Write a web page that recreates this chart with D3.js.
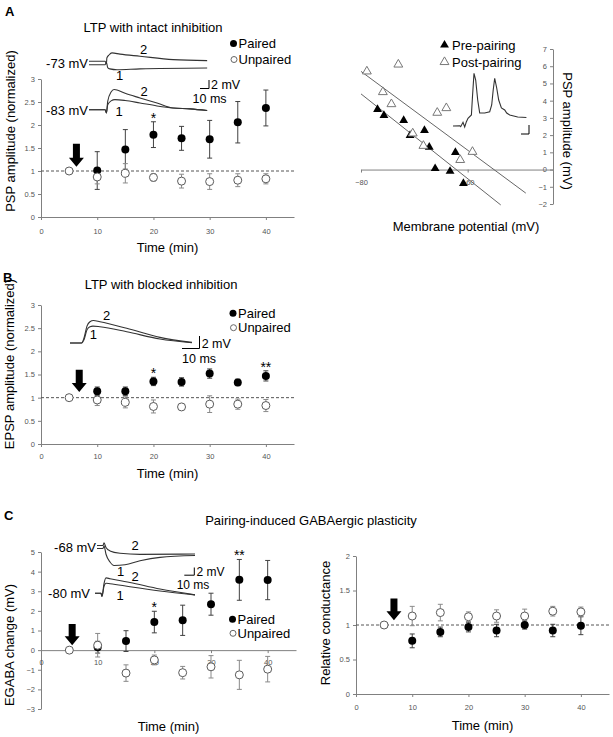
<!DOCTYPE html>
<html><head><meta charset="utf-8">
<script src="https://cdn.jsdelivr.net/npm/d3@7"></script>
<style>body{margin:0;background:#fff}svg{display:block;font-family:"Liberation Sans",Arial,sans-serif}</style>
</head><body><svg id="c" width="613" height="737"></svg>
<script>
// ---------------- DATA ----------------
const timeTicks = [0, 10, 20, 30, 40];
const pairedTimes = [10, 15, 20, 25, 30, 35, 40];
const unpairedTimes = [5, 10, 15, 20, 25, 30, 35, 40];
const legendLabels = ["Paired", "Unpaired"];

// Panel A (left): LTP with intact inhibition
const aPairedMean = [1.01, 1.47, 1.79, 1.71, 1.69, 2.06, 2.37];
const aPairedErr  = [0.41, 0.43, 0.28, 0.26, 0.41, 0.45, 0.39];
const aUnpairedMean = [1.0, 0.87, 0.95, 0.86, 0.78, 0.77, 0.80, 0.83];
const aUnpairedErr  = [0, 0.15, 0.21, 0.08, 0.15, 0.17, 0.14, 0.11];
const aStars = [{t: 20, s: "*"}];
const aTicksY = [0, 0.5, 1, 1.5, 2, 2.5, 3];

// Panel B: LTP with blocked inhibition
const bPairedMean = [1.14, 1.14, 1.35, 1.34, 1.52, 1.33, 1.47];
const bPairedErr  = [0.09, 0.09, 0.09, 0.09, 0.10, 0.07, 0.11];
const bUnpairedMean = [1.0, 0.95, 0.90, 0.81, 0.80, 0.86, 0.86, 0.83];
const bUnpairedErr  = [0, 0.12, 0.12, 0.14, 0.07, 0.18, 0.11, 0.13];
const bStars = [{t: 20, s: "*"}, {t: 40, s: "**"}];

// Panel C (left): EGABA change
const cPairedMean = [0.15, 0.46, 1.43, 1.52, 2.34, 3.58, 3.57];
const cPairedErr  = [0.30, 0.53, 0.55, 0.77, 0.56, 1.04, 1.00];
const cUnpairedMean = [0, 0.25, -1.17, -0.5, -1.15, -0.85, -1.26, -0.97];
const cUnpairedErr  = [0, 0.6, 0.42, 0.25, 0.32, 0.57, 0.74, 0.65];
const cStars = [{t: 20, s: "*"}, {t: 35, s: "**"}];
const cTicksY = [-3, -2, -1, 0, 1, 2, 3, 4, 5];

// Panel C (right): relative conductance
const dPairedMean = [0.77, 0.90, 0.97, 0.92, 1.00, 0.92, 0.99];
const dPairedErr  = [0.10, 0.07, 0.07, 0.09, 0.06, 0.09, 0.13];
const dUnpairedMean = [1.0, 1.13, 1.18, 1.12, 1.13, 1.13, 1.20, 1.19];
const dUnpairedErr  = [0, 0.14, 0.12, 0.07, 0.09, 0.10, 0.07, 0.07];
const dTicksY = [0, 0.5, 1, 1.5, 2];

// pairing arrows (time, top value, tip value)
const arrowA = {t: 6.3, top: 1.59, tip: 1.09};
const arrowB = {t: 6.8, top: 1.60, tip: 1.12};
const arrowC = {t: 5.5, top: 1.33, tip: 0.25};
const arrowD = {t: 6.75, top: 1.385, tip: 1.07};

// Panel A (right): PSP amplitude vs membrane potential
const prePairingV   = [-76.9, -75.7, -72.0, -70.8, -68.1, -67.2, -66.1, -63.3, -62.3, -60.8];
const prePairingAmp = [3.49, 3.14, 2.85, 1.98, 2.27, 1.30, 0.06, -0.10, 1.00, -0.80];
const postPairingV   = [-78.9, -73.0, -75.9, -74.3, -70.3, -68.3, -65.7, -64.0, -61.4, -59.1];
const postPairingAmp = [5.70, 6.10, 4.50, 3.80, 2.10, 1.38, 3.30, 3.57, 0.56, 1.03];
const preFitRange  = [-80, -53.8];
const postFitRange = [-80, -49.1];
const scatterTicksX = [-80, -60];
const scatterTicksY = [-2, -1, 0, 1, 2, 3, 4, 5, 6, 7];
const scatterLegend = ["Pre-pairing", "Post-pairing"];

// example traces (time in ms, voltage in mV relative to baseline)
const trA73_2 = {t: [0, 19, 20.5, 21, 23.5, 27, 36.5, 60, 99, 139], v: [0, 0, -0.6, 0.8, 1.5, 2.0, 1.7, 1.2, 0.4, 0.15]};
const trA73_1 = {t: [0, 19, 20.5, 22, 24.5, 33, 60, 139], v: [0, 0, 0.6, -0.7, -1.0, -1.2, -1.0, -0.8]};
const trA83_2 = {t: [0, 19, 20.5, 22, 26, 29.5, 33, 42.5, 60, 80, 99, 119, 139], v: [0, 0, -0.8, 2, 4.2, 4.8, 4.7, 3.9, 2.8, 1.6, 0.4, 0.2, -0.2]};
const trA83_1 = {t: [0, 19, 20.5, 22, 26, 30.5, 42.5, 60, 80, 99, 119, 139], v: [0, 0, -0.8, 1.2, 2.1, 2.4, 2.2, 1.6, 0.9, 0.4, 0.2, -0.2]};
const trB_2 = {t: [0, 6.6, 8, 9.7, 11.4, 13.4, 17.1, 32.4, 51.4, 69.7], v: [0, 0, 0.8, 2.7, 3.4, 3.6, 3.4, 2.35, 0.9, 0.1]};
const trB_1 = {t: [0, 6.6, 8, 9.7, 11.4, 13.1, 17.1, 32.4, 51.4, 69.7], v: [0, 0, 0.5, 2.1, 2.6, 2.7, 2.6, 1.8, 0.64, 0.03]};
const trC68_2 = {t: [0, 6, 7, 9, 13, 23, 43, 98], v: [0, 0, 0.7, -0.5, -1.4, -2.0, -2.3, -2.2]};
const trC68_1 = {t: [0, 6, 7, 9, 13, 17, 28, 43, 63, 98], v: [0, 0, 0.7, -1.5, -3.5, -4.4, -4.2, -3.2, -2.3, -1.8]};
const trC80_2 = {t: [0, 6, 7, 9, 11, 15, 35, 65, 100], v: [0, 0, -0.8, 2.5, 4.0, 3.8, 2.8, 1.1, -0.4]};
const trC80_1 = {t: [0, 6, 7, 9, 11, 15, 35, 65, 100], v: [0, 0, -0.8, 1.8, 2.6, 2.5, 1.7, 0.6, -0.4]};
const spikeTrace = {t: [0, 6.7, 7.7, 10, 11.7, 13.4, 15, 18.4, 19.4, 21, 22.7, 24.7, 26.7, 31.7, 36.7, 38.7, 40.2, 41.7, 43.7, 45.7, 48.4, 51.7, 53.7, 56.7, 64.7, 73.4],
                    v: [0, 0.3, -0.7, 3.7, -1, 4.3, 7.7, 11, 28, 52.7, 46, 26, 13, 13, 14.3, 21, 36, 47.7, 38, 26, 18, 16, 13, 11, 9, 8.5]};

// ---------------- DRAWING ----------------
const svg = d3.select("#c");
const AX = "#808080", TICKTXT = "#555";

function styleAxis(sel) {
  sel.select(".domain").attr("stroke", AX);
  sel.selectAll(".tick line").attr("stroke", AX);
  sel.selectAll(".tick text").attr("fill", TICKTXT).attr("font-size", 7.5).attr("font-family", "Liberation Sans, Arial, sans-serif");
}
function txt(g, x, y, s, o = {}) {
  return g.append("text").attr("x", x).attr("y", y).text(s)
    .attr("font-size", o.size || 13).attr("text-anchor", o.anchor || "start")
    .attr("font-weight", o.weight || "normal").attr("fill", o.fill || "#000");
}
function vlabel(x, y, s, rot = -90) {
  svg.append("text").attr("transform", `translate(${x},${y}) rotate(${rot})`)
    .attr("text-anchor", "middle").attr("font-size", 13).text(s);
}
function drawArrow(g, cx, yTop, yTip) {
  const sw = 3.5, hw = 7.5, hl = 9;
  g.append("path").attr("d", `M${cx - sw},${yTop}L${cx + sw},${yTop}L${cx + sw},${yTip - hl}L${cx + hw},${yTip - hl}L${cx},${yTip}L${cx - hw},${yTip - hl}L${cx - sw},${yTip - hl}Z`).attr("fill", "#000");
}

function timePanel(o) {
  const x = d3.scaleLinear().domain([0, 45]).range(o.xr);
  const y = d3.scaleLinear().domain(o.yd).range(o.yr);
  const g = svg.append("g");
  g.append("g").attr("transform", `translate(${o.xr[0]},0)`)
    .call(d3.axisLeft(y).tickValues(o.yt).tickSize(3).tickSizeOuter(0).tickPadding(3).tickFormat(d3.format("~g"))).call(styleAxis);
  g.append("g").attr("transform", `translate(0,${y(o.xAt)})`)
    .call(d3.axisBottom(x).tickValues(timeTicks).tickSize(3).tickSizeOuter(0).tickPadding(o.pad)).call(styleAxis);
  if (o.ref != null) {
    g.append("line").attr("x1", x(0)).attr("x2", x(45)).attr("y1", y(o.ref)).attr("y2", y(o.ref))
      .attr("stroke", "#555").attr("stroke-dasharray", "3,2").attr("stroke-width", 1);
  }
  const P = pairedTimes.map((t, i) => ({t, m: o.pm[i], e: o.pe[i]}));
  const U = unpairedTimes.map((t, i) => ({t, m: o.um[i], e: o.ue[i]}));
  function bars(data, col) {
    data.filter(d => d.e > 0).forEach(d => {
      const cx = x(d.t), y1 = y(d.m + d.e), y2 = y(d.m - d.e);
      g.append("line").attr("x1", cx).attr("x2", cx).attr("y1", y1).attr("y2", y2).attr("stroke", col);
      [y1, y2].forEach(yy => g.append("line").attr("x1", cx - 2.5).attr("x2", cx + 2.5).attr("y1", yy).attr("y2", yy).attr("stroke", col));
    });
  }
  bars(P, "#404040");
  bars(U, "#8a8a8a");
  g.selectAll(".p").data(P).join("circle").attr("cx", d => x(d.t)).attr("cy", d => y(d.m)).attr("r", 4).attr("fill", "#000");
  g.selectAll(".u").data(U).join("circle").attr("cx", d => x(d.t)).attr("cy", d => y(d.m)).attr("r", 4)
    .attr("fill", "#fff").attr("stroke", "#5a5a5a").attr("stroke-width", 1);
  (o.stars || []).forEach(s => {
    const i = pairedTimes.indexOf(s.t);
    txt(g, x(s.t), y(P[i].m + P[i].e) + 1, s.s, {anchor: "middle", size: 14});
  });
  drawArrow(g, x(o.arrow.t), y(o.arrow.top), y(o.arrow.tip));
  txt(g, (o.xr[0] + o.xr[1]) / 2, o.xlabY, "Time (min)", {anchor: "middle"});
  if (o.legend) {
    const L = o.legend;
    g.append("circle").attr("cx", L.x).attr("cy", L.y1).attr("r", 3.5).attr("fill", "#000");
    g.append("circle").attr("cx", L.x + 0.5).attr("cy", L.y2).attr("r", 3).attr("fill", "#fff").attr("stroke", "#666");
    txt(g, L.x + 5, L.y1 + 4.5, legendLabels[0]);
    txt(g, L.x + 5, L.y2 + 4.5, legendLabels[1]);
  }
  return g;
}

function drawTrace(g, tr, x0, pxPerMs, base, pxPerMv, curve) {
  const xs = d3.scaleLinear().domain([0, 1]).range([x0, x0 + pxPerMs]);
  const ys = d3.scaleLinear().domain([0, 1]).range([base, base - pxPerMv]);
  const pts = tr.t.map((t, i) => [xs(t), ys(tr.v[i])]);
  g.append("path").attr("d", d3.line().curve(curve || d3.curveMonotoneX)(pts))
    .attr("fill", "none").attr("stroke", "#333").attr("stroke-width", 1.1);
}
function scaleBar(g, xr, yTop, hLen, vLen) {
  g.append("path").attr("d", `M${xr - hLen},${yTop + vLen}L${xr},${yTop + vLen}L${xr},${yTop}`)
    .attr("fill", "none").attr("stroke", "#000").attr("stroke-width", 1);
}

// ----- Panel letters & titles -----
txt(svg, 5, 16, "A", {weight: "bold", size: 13});
txt(svg, 3, 282, "B", {weight: "bold", size: 13});
txt(svg, 4, 520, "C", {weight: "bold", size: 13});
txt(svg, 153, 31.5, "LTP with intact inhibition", {anchor: "middle"});
txt(svg, 161, 288.5, "LTP with blocked inhibition", {anchor: "middle"});
txt(svg, 311, 525, "Pairing-induced GABAergic plasticity", {anchor: "middle"});

// ----- Panel A left -----
const gA = timePanel({xr: [41, 294], yr: [217, 79], yd: [0, 3], yt: aTicksY, xAt: 0, pad: 9, ref: 1,
  pm: aPairedMean, pe: aPairedErr, um: aUnpairedMean, ue: aUnpairedErr, stars: aStars, arrow: arrowA,
  xlabY: 252, legend: {x: 233.5, y1: 43.5, y2: 59.5}});
vlabel(15, 131, "PSP amplitude (normalized)");
drawTrace(gA, trA73_2, 89, 0.85, 61.3, 4.2);
drawTrace(gA, trA73_1, 89, 0.85, 64.7, 4.2);
drawTrace(gA, trA83_2, 89, 0.85, 109.7, 4.2);
drawTrace(gA, trA83_1, 89, 0.85, 109.7, 4.2);
txt(gA, 88, 67.5, "-73 mV", {anchor: "end"});
txt(gA, 88, 114.5, "-83 mV", {anchor: "end"});
txt(gA, 143.5, 53.5, "2", {anchor: "middle"});
txt(gA, 119.5, 79.5, "1", {anchor: "middle"});
txt(gA, 144, 96, "2", {anchor: "middle"});
txt(gA, 119, 115.5, "1", {anchor: "middle"});
scaleBar(gA, 209, 80, 9, 8.5);
txt(gA, 211, 89, "2 mV", {size: 12.5});
txt(gA, 192.5, 102.5, "10 ms", {size: 12.5});

// ----- Panel A right (scatter) -----
{
  const g = svg.append("g");
  const x = d3.scaleLinear().domain([-80, -44]).range([361, 553]);
  const y = d3.scaleLinear().domain([-2, 7]).range([204, 49]);
  g.append("g").attr("transform", `translate(${x(-44)},0)`)
    .call(d3.axisLeft(y).tickValues(scatterTicksY).tickSize(3).tickSizeOuter(0).tickPadding(3)).call(styleAxis);
  g.append("g").attr("transform", `translate(0,${y(0)})`)
    .call(d3.axisBottom(x).tickValues(scatterTicksX).tickSize(3).tickSizeOuter(0).tickPadding(7)).call(styleAxis);
  function fit(xs, ys) {
    const mx = d3.mean(xs), my = d3.mean(ys);
    const sxy = d3.sum(xs, (v, i) => (v - mx) * (ys[i] - my)), sxx = d3.sum(xs, v => (v - mx) ** 2);
    const b = sxy / sxx; return v => my + b * (v - mx);
  }
  const fPre = fit(prePairingV, prePairingAmp), fPost = fit(postPairingV, postPairingAmp);
  [[fPre, preFitRange], [fPost, postFitRange]].forEach(([f, r]) => {
    g.append("line").attr("x1", x(r[0])).attr("x2", x(r[1])).attr("y1", y(f(r[0]))).attr("y2", y(f(r[1])))
      .attr("stroke", "#666").attr("stroke-width", 1);
  });
  const tri = d3.symbol().type(d3.symbolTriangle).size(34);
  prePairingV.forEach((v, i) => g.append("path").attr("d", tri()).attr("transform", `translate(${x(v)},${y(prePairingAmp[i])})`).attr("fill", "#000"));
  postPairingV.forEach((v, i) => g.append("path").attr("d", tri()).attr("transform", `translate(${x(v)},${y(postPairingAmp[i])})`).attr("fill", "#fff").attr("stroke", "#777"));
  g.append("path").attr("d", tri()).attr("transform", "translate(444.5,45)").attr("fill", "#000");
  g.append("path").attr("d", tri()).attr("transform", "translate(444.5,62)").attr("fill", "#fff").attr("stroke", "#777");
  txt(g, 452, 49.5, scatterLegend[0]);
  txt(g, 452, 66.5, scatterLegend[1]);
  drawTrace(g, spikeTrace, 453, 1, 126, 1, d3.curveLinear);
  scaleBar(g, 529, 125, 8, 9);
  txt(g, 466, 231, "Membrane potential (mV)", {anchor: "middle"});
  vlabel(563, 131, "PSP amplitude (mV)", 90);
}

// ----- Panel B -----
const gB = timePanel({xr: [41, 294], yr: [444, 305], yd: [0, 3], yt: aTicksY, xAt: 0, pad: 7, ref: 1,
  pm: bPairedMean, pe: bPairedErr, um: bUnpairedMean, ue: bUnpairedErr, stars: bStars, arrow: arrowB,
  xlabY: 478, legend: {x: 233, y1: 313.3, y2: 327.7}});
vlabel(14, 364, "EPSP amplitude (normalized)");
drawTrace(gB, trB_2, 70, 1.75, 343, 6.25);
drawTrace(gB, trB_1, 70, 1.75, 343, 6.25);
txt(gB, 106.7, 319.5, "2", {anchor: "middle"});
txt(gB, 93.3, 338.5, "1", {anchor: "middle"});
scaleBar(gB, 199.5, 336, 17.5, 12.5);
txt(gB, 201.7, 347.5, "2 mV", {size: 12.5});
txt(gB, 182, 362.5, "10 ms", {size: 12.5});

// ----- Panel C left -----
const gC = timePanel({xr: [41, 296], yr: [709, 552], yd: [-3, 5], yt: cTicksY, xAt: 0, pad: 7, ref: null,
  pm: cPairedMean, pe: cPairedErr, um: cUnpairedMean, ue: cUnpairedErr, stars: cStars, arrow: arrowC,
  xlabY: 731, legend: {x: 232.5, y1: 619.3, y2: 633.3}});
vlabel(14, 645, "EGABA change (mV)");
drawTrace(gC, trC68_2, 97, 1, 545.5, 3.85);
drawTrace(gC, trC68_1, 97, 1, 548.5, 3.85);
drawTrace(gC, trC80_2, 95, 1, 593.3, 3.85);
drawTrace(gC, trC80_1, 95, 1, 593.3, 3.85);
txt(gC, 96, 551.5, "-68 mV", {anchor: "end"});
txt(gC, 90, 598, "-80 mV", {anchor: "end"});
txt(gC, 135, 549.5, "2", {anchor: "middle"});
txt(gC, 120.7, 576, "1", {anchor: "middle"});
txt(gC, 135, 580.5, "2", {anchor: "middle"});
txt(gC, 120, 599.5, "1", {anchor: "middle"});
scaleBar(gC, 194.3, 567.5, 10, 7.7);
txt(gC, 196.5, 576, "2 mV", {size: 12});
txt(gC, 176.7, 589, "10 ms", {size: 12});

// ----- Panel C right -----
timePanel({xr: [356, 609], yr: [694, 556], yd: [0, 2], yt: dTicksY, xAt: 0, pad: 8, ref: 1,
  pm: dPairedMean, pe: dPairedErr, um: dUnpairedMean, ue: dUnpairedErr, stars: [], arrow: arrowD,
  xlabY: 730, legend: null});
vlabel(330, 623, "Relative conductance");
</script></body></html>
